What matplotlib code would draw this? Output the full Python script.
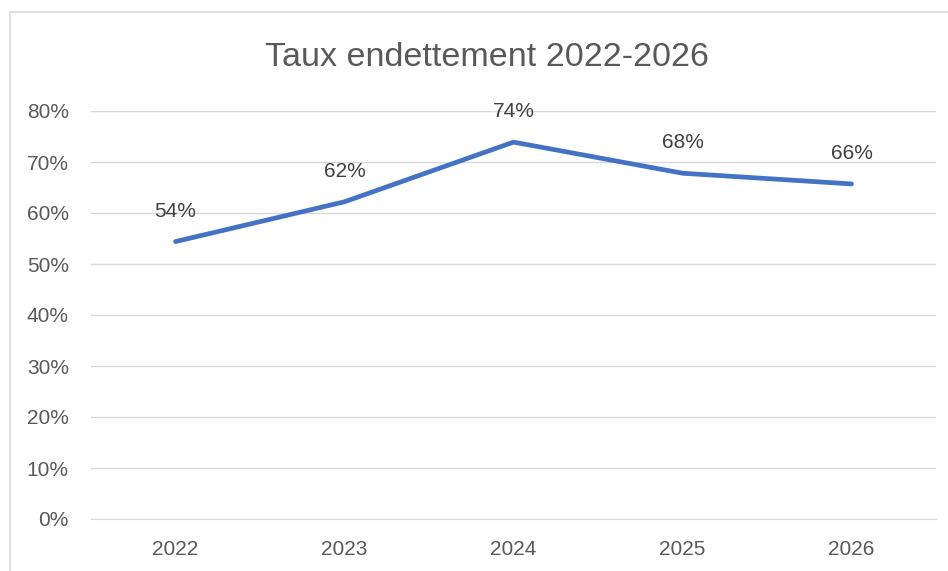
import matplotlib.pyplot as plt
from matplotlib.patches import Rectangle
from matplotlib.ticker import FuncFormatter

years = ['2022', '2023', '2024', '2025', '2026']
taux = [0.544, 0.622, 0.739, 0.678, 0.657]
labels = ['54%', '62%', '74%', '68%', '66%']

plt.rcParams['font.family'] = ['Liberation Sans', 'DejaVu Sans']
grey = '#595959'

fig = plt.figure(figsize=(9.48, 5.71), dpi=100)
# light frame of the chart area (cropped on the right and bottom)
fig.patches.append(Rectangle((10 / 948, -0.1), 1.0, 1 - 12 / 571 + 0.1,
                             transform=fig.transFigure, fill=False,
                             edgecolor='#d9d9d9', linewidth=1.2))
ax = fig.add_axes([91 / 948, 1 - 519 / 571, (936 - 91) / 948, (519 - 111) / 571])

x = range(len(years))
ax.plot(x, taux, color='#4472C4', linewidth=3.4, solid_capstyle='round', zorder=3)
for xi, yi, lab in zip(x, taux, labels):
    ax.annotate(lab, (xi, yi), xytext=(0, 22), textcoords='offset points',
                ha='center', va='center', fontsize=15, color='#404040')

ax.set_xlim(-0.5, 4.5)
ax.set_ylim(0, 0.8)
ax.set_yticks([i / 10 for i in range(9)])
ax.yaxis.set_major_formatter(FuncFormatter(lambda v, p: f'{v * 100:.0f}%'))
ax.set_xticks(list(x))
ax.set_xticklabels(years)
ax.grid(axis='y', color='#d9d9d9', linewidth=1.0)
ax.set_axisbelow(True)
for s in ['top', 'right', 'left']:
    ax.spines[s].set_visible(False)
ax.spines['bottom'].set_color('#d9d9d9')
ax.tick_params(length=0, labelsize=15, colors=grey)
ax.tick_params(axis='y', pad=16)
ax.tick_params(axis='x', pad=15)

fig.text(487 / 948, 1 - 57 / 571, 'Taux endettement 2022-2026', ha='center', va='center',
         fontsize=24.5, color=grey)

fig.savefig('out.png', dpi=100)
